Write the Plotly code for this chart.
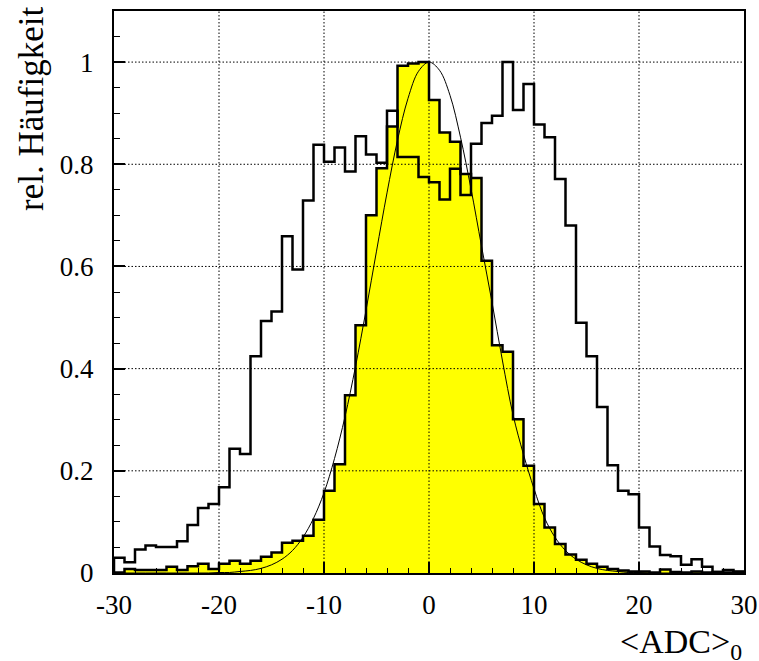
import plotly.graph_objects as go

# ---- data ----
bin_left = list(range(-30, 30))          # bins of width 1 from -30 to 30
bin_right_edge = 30

narrow_vals = [0.001, 0.008, 0.006, 0.006, 0.006, 0.012, 0.006, 0.013, 0.018, 0.008,
               0.018, 0.024, 0.018, 0.024, 0.032, 0.040, 0.059, 0.063, 0.073, 0.104,
               0.161, 0.213, 0.348, 0.485, 0.700, 0.792, 0.874, 0.993, 0.997, 1.000,
               0.926, 0.862, 0.844, 0.781, 0.773, 0.611, 0.446, 0.433, 0.301, 0.210,
               0.135, 0.089, 0.057, 0.036, 0.026, 0.018, 0.012, 0.008, 0.005, 0.003,
               0.003, 0.001, 0.007, 0.002, 0.001, 0.003, 0.001, 0.002, 0.001, 0.002]

wide_vals = [0.030, 0.021, 0.046, 0.054, 0.051, 0.051, 0.062, 0.094, 0.127, 0.135,
             0.168, 0.243, 0.233, 0.424, 0.493, 0.512, 0.659, 0.594, 0.729, 0.838,
             0.805, 0.833, 0.786, 0.855, 0.819, 0.803, 0.905, 0.814, 0.814, 0.775,
             0.765, 0.731, 0.791, 0.740, 0.840, 0.881, 0.895, 1.000, 0.906, 0.957,
             0.878, 0.853, 0.771, 0.680, 0.490, 0.424, 0.325, 0.211, 0.161, 0.154,
             0.089, 0.052, 0.035, 0.033, 0.016, 0.027, 0.012, 0.002, 0.006, 0.003]

fit_x = list(range(-30, 31))
fit_y = [0, 0, 0, 0, 0, 0, 0, 0, 0, 0,
         0.001, 0.001, 0.003, 0.005, 0.009, 0.016, 0.027, 0.044, 0.070, 0.107,
         0.157, 0.224, 0.306, 0.404, 0.514, 0.630, 0.744, 0.847, 0.929, 0.982,
         1.000,
         0.984, 0.935, 0.853, 0.752, 0.640, 0.530, 0.415, 0.310, 0.232, 0.165,
         0.108, 0.070, 0.044, 0.027, 0.016, 0.009, 0.005, 0.003, 0.001, 0.001,
         0, 0, 0, 0, 0, 0, 0, 0, 0, 0]

x_tickvals = [-30, -20, -10, 0, 10, 20, 30]
x_ticktext = ["-30", "-20", "-10", "0", "10", "20", "30"]
y_tickvals = [0, 0.2, 0.4, 0.6, 0.8, 1.0]
y_ticktext = ["0", "0.2", "0.4", "0.6", "0.8", "1"]

x_title = "&lt;ADC&gt;<sub>0</sub>"
y_title = "rel. Häufigkeit"

FONT = "Liberation Serif"


def step_path(vals):
    xs = [bin_left[0]] + bin_left + [bin_right_edge, bin_right_edge]
    ys = [0] + vals + [vals[-1], 0]
    return xs, ys


fig = go.Figure()

nx, ny = step_path(narrow_vals)
fig.add_trace(go.Scatter(x=nx, y=ny, mode="lines", line_shape="hv",
                         line=dict(color="black", width=2.5),
                         fill="tozeroy", fillcolor="#ffff00", showlegend=False))

wx, wy = step_path(wide_vals)
fig.add_trace(go.Scatter(x=wx, y=wy, mode="lines", line_shape="hv",
                         line=dict(color="black", width=2.5), showlegend=False))

fig.add_trace(go.Scatter(x=fit_x, y=fit_y, mode="lines", line_shape="spline",
                         line=dict(color="black", width=1), showlegend=False))

# dotted grid drawn above the fill, at the major ticks
for xv in x_tickvals[1:-1]:
    fig.add_shape(type="line", xref="x", yref="paper", x0=xv, x1=xv, y0=0, y1=1,
                  line=dict(color="black", width=1, dash="1.5px,2px"), layer="above")
for yv in y_tickvals[1:]:
    fig.add_shape(type="line", xref="paper", yref="y", x0=0, x1=1, y0=yv, y1=yv,
                  line=dict(color="black", width=1, dash="1.5px,2px"), layer="above")

fig.update_xaxes(range=[-30, 30], tickvals=x_tickvals, ticktext=x_ticktext,
                 ticks="inside", ticklen=11, tickwidth=1.5, tickcolor="black",
                 minor=dict(ticks="inside", dtick=2, tick0=0, ticklen=5.5,
                            tickwidth=1, tickcolor="black", showgrid=False),
                 showgrid=False, zeroline=False, showline=True, linecolor="black",
                 linewidth=2, mirror=True, ticklabelstandoff=7, automargin=False,
                 tickfont=dict(family=FONT, size=27, color="black"),
                 layer="above traces")
fig.update_yaxes(range=[0, 1.1], tickvals=y_tickvals, ticktext=y_ticktext,
                 ticks="inside", ticklen=11, tickwidth=1.5, tickcolor="black",
                 minor=dict(ticks="inside", dtick=0.05, tick0=0, ticklen=5.5,
                            tickwidth=1, tickcolor="black", showgrid=False),
                 showgrid=False, zeroline=False, showline=True, linecolor="black",
                 linewidth=2, mirror=True, ticklabelstandoff=13, automargin=False,
                 tickfont=dict(family=FONT, size=27, color="black"),
                 layer="above traces")

fig.add_annotation(text=y_title, xref="paper", yref="paper", x=-0.130, y=1.011,
                   xanchor="center", yanchor="top", textangle=-90, showarrow=False,
                   font=dict(family=FONT, size=35, color="black"))
fig.add_annotation(text=x_title, xref="paper", yref="paper", x=1.0, y=-0.085,
                   xanchor="right", yanchor="top", showarrow=False,
                   font=dict(family=FONT, size=34, color="black"))

fig.update_layout(width=759, height=661,
                  margin=dict(l=114, r=15, t=11, b=88),
                  paper_bgcolor="white", plot_bgcolor="white",
                  showlegend=False)

fig.write_html("out.html")
